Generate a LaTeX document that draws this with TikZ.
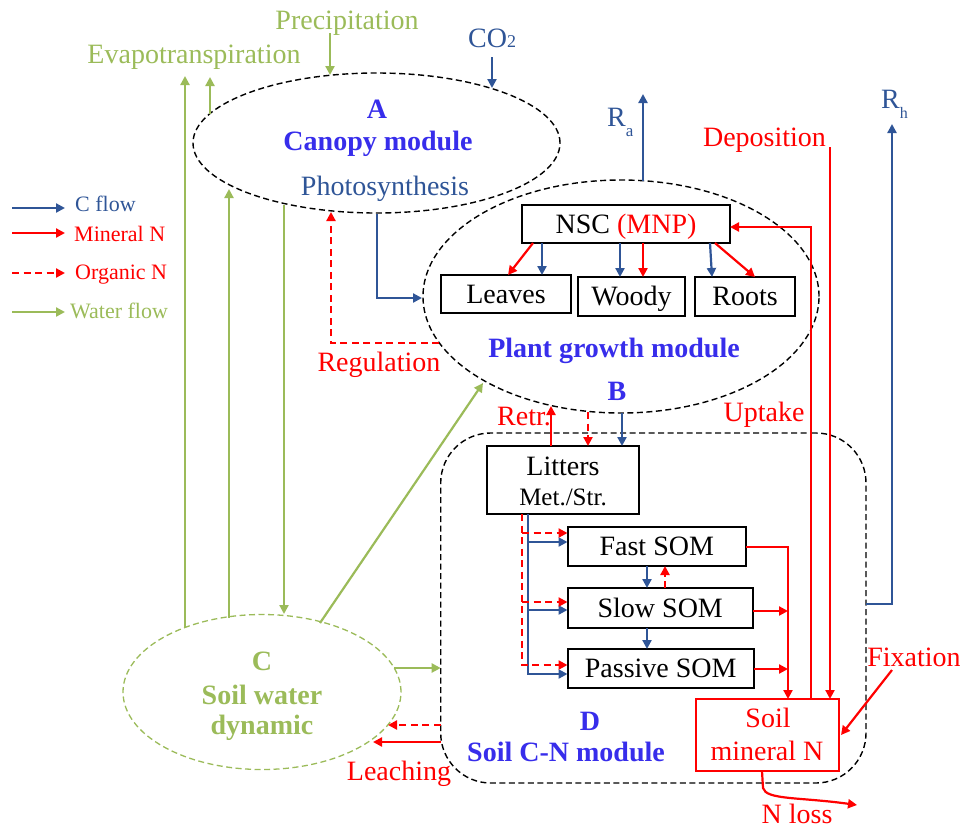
\documentclass[tikz,border=0pt]{standalone}
\usepackage{fontspec}
\setmainfont{Liberation Serif}
\usetikzlibrary{arrows.meta,shapes.geometric}
\definecolor{cblue}{RGB}{47,85,151}
\definecolor{mblue}{RGB}{55,45,235}
\definecolor{wgreen}{RGB}{155,187,89}
\newcommand\fsz[2]{\fontsize{#1}{#2}\selectfont}
\begin{document}
\begin{tikzpicture}[x=1pt,y=-1pt,font=\fsz{28}{33},
  flow/.style={line width=2.2pt,-{Triangle[length=9pt,width=9pt]}},
  cf/.style={flow,draw=cblue},
  mf/.style={flow,draw=red},
  of/.style={flow,draw=red,dash pattern=on 7pt off 4.5pt},
  wf/.style={flow,draw=wgreen},
  modell/.style={ellipse,draw,dash pattern=on 6pt off 3.5pt,line width=1.4pt,inner sep=0pt},
  box/.style={draw,line width=2pt,inner sep=0pt,text height=18.5pt,text depth=0pt},
  lab/.style={inner sep=0pt,anchor=base},
  labw/.style={inner sep=0pt,anchor=base west},
  modlab/.style={lab,text=mblue,font=\fsz{28}{33}\bfseries},
  leg/.style={labw,font=\fsz{22}{26}}]
\useasboundingbox (0,0) rectangle (960,828);

% module shapes
\node[modell,minimum width=367pt,minimum height=140pt] (A) at (376.5,143) {};
\node[modell,minimum width=396pt,minimum height=233pt] (B) at (621,296.5) {};
\node[modell,draw=wgreen,line width=1.3pt,minimum width=278pt,minimum height=155pt] (C) at (262,692) {};
\node[draw,dash pattern=on 6pt off 3.5pt,line width=1.4pt,rounded corners=50pt,minimum width=425.3pt,minimum height=350pt,inner sep=0pt] (D) at (653.35,608) {};

% boxes
\node[box,minimum width=208pt,minimum height=38pt] (nsc) at (626,224) {NSC \textcolor{red}{(MNP)}};
\node[box,minimum width=130pt,minimum height=38pt] (leaves) at (506,294) {Leaves};
\node[box,minimum width=107pt,minimum height=39pt] (woody) at (631.5,296.5) {Woody};
\node[box,minimum width=100pt,minimum height=39pt] (roots) at (745,296.5) {Roots};
\node[box,minimum width=152pt,minimum height=68pt] (litters) at (563,480) {};
\node[lab] (littxt) at (563,475) {Litters};
\node[lab,font=\fsz{25}{28}] (mettxt) at (563,505) {Met./Str.};
\node[box,minimum width=178.5pt,minimum height=39pt] (fast) at (656.75,546.5) {Fast SOM};
\node[box,minimum width=185.5pt,minimum height=40pt] (slow) at (660.25,608) {Slow SOM};
\node[box,minimum width=186.5pt,minimum height=39pt] (passive) at (660.75,668.5) {Passive SOM};
\node[box,draw=red,minimum width=143pt,minimum height=72pt] (smn) at (767.5,735) {};
\node[lab,text=red] (smn1) at (768,727) {Soil};
\node[lab,text=red] (smn2) at (767,760) {mineral N};

% module labels
\node[modlab] (At) at (377,118) {A};
\node[modlab] (At2) at (378,150) {Canopy module};
\node[lab,text=cblue] (photo) at (385,195) {Photosynthesis};
\node[modlab] (Bt2) at (614,357.5) {Plant growth module};
\node[modlab] (Bt) at (617,400) {B};
\node[lab,text=wgreen,font=\fsz{28}{33}\bfseries] (Ct) at (262,670.5) {C};
\node[lab,text=wgreen,font=\fsz{28}{33}\bfseries] (Ct2) at (262,704) {Soil water};
\node[lab,text=wgreen,font=\fsz{28}{33}\bfseries] (Ct3) at (262,734) {dynamic};
\node[modlab] (Dt) at (590,730) {D};
\node[modlab] (Dt2) at (566,761.5) {Soil C-N module};

% free labels
\node[lab,text=wgreen] (prec) at (347,29) {Precipitation};
\node[lab,text=wgreen] (evap) at (194,63) {Evapotranspiration};
\node[labw,text=cblue] (co2) at (468,47) {CO{\fsz{18}{18}2}};
\node[labw,text=cblue] (ra) at (607,126) {R\raisebox{-10pt}{\fsz{17}{17}a}};
\node[labw,text=cblue] (rh) at (881,108) {R\raisebox{-10pt}{\fsz{16}{16}h}};
\node[lab,text=red] (depo) at (764.5,146) {Deposition};
\node[lab,text=red] (regu) at (379,371.5) {Regulation};
\node[lab,text=red] (retr) at (524,425) {Retr.};
\node[lab,text=red] (upt) at (764,421.5) {Uptake};
\node[lab,text=red] (fix) at (914,666.5) {Fixation};
\node[lab,text=red] (leach) at (399,780) {Leaching};
\node[lab,text=red] (nloss) at (797,823) {N loss};

% legend
\draw[cf] (12,208) -- (65,208);
\node[leg,text=cblue] (l1) at (75,211.7) {C flow};
\draw[mf] (12,233) -- (65,233);
\node[leg,text=red] (l2) at (74,241) {Mineral N};
\draw[of] (12,273) -- (65,273);
\node[leg,text=red] (l3) at (75,279) {Organic N};
\draw[wf] (12,312) -- (65,312);
\node[leg,text=wgreen] (l4) at (70,318) {Water flow};

% water flows
\draw[wf] (330,33) -- (330,75);
\draw[wf] (185,628) -- (185,76);
\draw[wf] (210,114) -- (210,77);
\draw[wf] (229,618) -- (229,189);
\draw[wf] (284,205) -- (284,614);
\draw[wf] (320,623) -- (483,383);
\draw[wf] (394,668) -- (440.7,668);

% carbon flows
\draw[cf] (492,57) -- (492,88);
\draw[cf] (377,214) -- (377,298) -- (422,298);
\draw[cf] (643,181) -- (643,94);
\draw[cf] (542,243) -- (542,275);
\draw[cf] (620,243) -- (620,277);
\draw[cf] (710,243) -- (712,277);
\draw[cf] (622,413) -- (622,446);
\draw[cf] (528,514) -- (528,674) -- (567.5,674);
\draw[cf] (528,542) -- (567.5,542);
\draw[cf] (528,610) -- (567.5,610);
\draw[cf] (647,566) -- (647,588);
\draw[cf] (647,628) -- (647,649);
\draw[cf] (866,604) -- (892,604) -- (892,124);

% mineral N flows
\draw[mf] (533,243) -- (508,275);
\draw[mf] (643,243) -- (643,277);
\draw[mf] (715,243) -- (755,277);
\draw[mf] (551,446) -- (551,406);
\draw[mf] (811,699) -- (811,227) -- (730,227);
\draw[mf] (830,147) -- (830,699);
\draw[mf] (746,547) -- (788,547) -- (788,699);
\draw[mf] (753,611) -- (788,611);
\draw[mf] (754,669) -- (788,669);
\draw[mf] (892,670) -- (841,735);
\draw[mf] (440.7,742) -- (373,742);
\draw[mf] (762,771) -- (763,788) .. controls (766,800) and (800,797) .. (857,805);

% organic N flows
\draw[of] (439,343) -- (331,343) -- (331,212);
\draw[of] (588,412) -- (588,446);
\draw[of] (665,588) -- (665,566);
\draw[of] (522,514) -- (522,665) -- (567.5,665);
\draw[of] (522,533) -- (567.5,533);
\draw[of] (522,602) -- (567.5,602);
\draw[of] (440.7,725) -- (388,725);
\end{tikzpicture}
\end{document}
